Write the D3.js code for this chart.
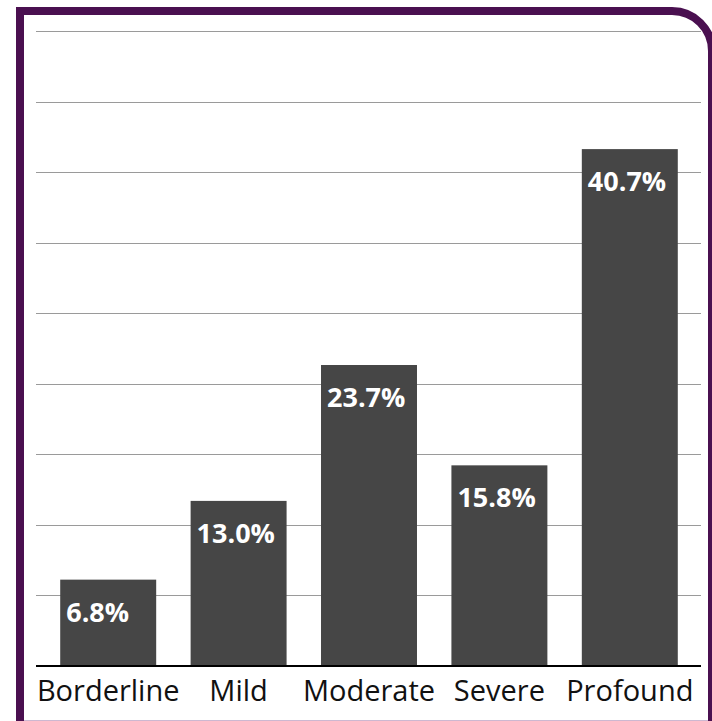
<html lang="en">
  <head>
    <meta charset="utf-8">
    <script src="https://d3js.org/d3.v7.js"></script>
    <style>
      body { margin: 0; background: #fff; }
      text { font-family: "Open Sans", sans-serif; }
    </style>
  </head>
  <body>
    <svg id="chart" width="712" height="721"></svg>
    <script>
      var categories = ["Borderline", "Mild", "Moderate", "Severe", "Profound"];
      var values = [6.8, 13.0, 23.7, 15.8, 40.7];
      var valueLabels = ["6.8%", "13.0%", "23.7%", "15.8%", "40.7%"];
      var yMax = 50;
      var gridCount = 9;

      var svg = d3.select("svg#chart");

      // purple frame: square top-left, rounded top-right, cut off at right and bottom
      var frame = d3.path();
      frame.moveTo(20, 760);
      frame.lineTo(20, 11);
      frame.lineTo(672, 11);
      frame.arcTo(712, 11, 712, 51, 40);
      frame.lineTo(712, 760);

      svg.append("path")
        .attr("d", frame.toString())
        .attr("fill", "none")
        .attr("stroke", "#4a1050")
        .attr("stroke-width", 8)
        .attr("stroke-linejoin", "miter");

      svg.append("line")
        .attr("x1", 24).attr("x2", 708)
        .attr("y1", 720.5).attr("y2", 720.5)
        .attr("stroke", "#cdb8d1")
        .attr("stroke-width", 1);

      var xScale = d3.scaleBand()
        .domain(categories)
        .range([43, 695])
        .paddingInner(0.264)
        .paddingOuter(0.132);

      var yScale = d3.scaleLinear()
        .domain([0, yMax])
        .range([666, 31]);

      var gridValues = d3.range(1, gridCount + 1).map(i => i * yMax / gridCount);

      svg.append("g")
        .selectAll("line")
        .data(gridValues)
        .enter()
        .append("line")
        .attr("x1", 36)
        .attr("x2", 701)
        .attr("y1", d => Math.round(yScale(d)) + 0.5)
        .attr("y2", d => Math.round(yScale(d)) + 0.5)
        .attr("stroke", "#9a9a9a")
        .attr("stroke-width", 1);

      var data = categories.map((c, i) => ({cat: c, value: values[i], label: valueLabels[i]}));

      svg.append("g")
        .selectAll("rect")
        .data(data)
        .enter()
        .append("rect")
        .attr("x", d => xScale(d.cat))
        .attr("y", d => yScale(d.value))
        .attr("width", xScale.bandwidth())
        .attr("height", d => yScale(0) - yScale(d.value))
        .attr("fill", "#464646");

      svg.append("g")
        .selectAll("text")
        .data(data)
        .enter()
        .append("text")
        .attr("x", d => xScale(d.cat) + 6)
        .attr("y", d => yScale(d.value) + 42)
        .attr("fill", "#fff")
        .attr("font-weight", "bold")
        .attr("font-size", 27)
        .text(d => d.label);

      // baseline
      svg.append("line")
        .attr("x1", 36).attr("x2", 701)
        .attr("y1", yScale(0)).attr("y2", yScale(0))
        .attr("stroke", "#000")
        .attr("stroke-width", 2);

      svg.append("g")
        .selectAll("text")
        .data(categories)
        .enter()
        .append("text")
        .attr("x", d => xScale(d) + xScale.bandwidth() / 2)
        .attr("y", 701)
        .attr("text-anchor", "middle")
        .attr("fill", "#111")
        .attr("font-size", 29)
        .text(d => d);
    </script>
  </body>
</html>
